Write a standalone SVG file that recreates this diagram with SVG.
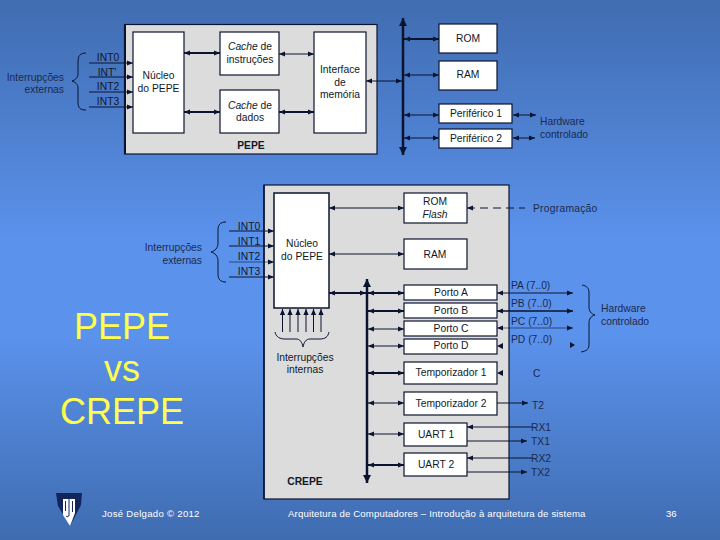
<svg xmlns="http://www.w3.org/2000/svg" width="720" height="540" viewBox="0 0 720 540">
<defs>
<linearGradient id="bg" x1="0" y1="0" x2="0" y2="1">
<stop offset="0" stop-color="#406cb0"/><stop offset="0.45" stop-color="#5b92ec"/><stop offset="0.62" stop-color="#5b92ec"/><stop offset="1" stop-color="#3f6cb0"/>
</linearGradient>
<marker id="a" markerUnits="userSpaceOnUse" markerWidth="7" markerHeight="7" refX="6" refY="3" orient="auto-start-reverse"><path d="M0 0.4L6 3L0 5.6Z" fill="#0a1430"/></marker>
<marker id="b" markerUnits="userSpaceOnUse" markerWidth="9" markerHeight="9" refX="8" refY="4" orient="auto-start-reverse"><path d="M0 0L8 4L0 8Z" fill="#0a1430"/></marker>
</defs>
<style>
text{font-family:"Liberation Sans",Arial,sans-serif;font-size:10.3px;fill:#101828;text-anchor:middle}
.w{fill:#fff;stroke:#0a1430;stroke-width:1.2}
.p{fill:#dcdcdc;stroke:#0a1430;stroke-width:1.2}
.b{fill:none;stroke:#0a1430;stroke-width:1}
.l{fill:none;stroke:#0a1430;stroke-width:1;marker-end:url(#a)}
.d{fill:none;stroke:#0a1430;stroke-width:1;marker-start:url(#a);marker-end:url(#a)}
.t{stroke-width:2}
.bus{fill:none;stroke:#0a1430;stroke-width:2.5;marker-start:url(#b);marker-end:url(#b)}
.s{text-anchor:start}
.e{text-anchor:end}
.i{font-style:italic}
.y{font-size:36px;fill:#ffff4d}
.f{fill:#fff;font-size:9.6px}
.o{fill:#1c2a4e}
</style>
<rect width="720" height="540" fill="url(#bg)"/>

<g id="pepe-box"><rect class="p" x="124.5" y="24.5" width="252.5" height="129.5"/><path d="M125 24V154" stroke="#0a1430" stroke-width="2"/><text x="251" y="149" style="font-weight:bold">PEPE</text></g>
<g id="crepe-box"><rect class="p" x="264" y="185" width="245" height="314"/><path d="M264 185V499" stroke="#0a1430" stroke-width="1.5"/><text x="305" y="485" style="font-weight:bold">CREPE</text></g>

<g id="connectors">
<path class="l" d="M89 63H133"/><path class="l" d="M89 77H133"/><path class="l" d="M89 92H133"/><path class="l" d="M89 107H133"/>
<path class="d t" d="M184 53H220"/><path class="d t" d="M184 112H220"/>
<path class="d" d="M279 54H314"/><path class="d t" d="M279 112H314"/>
<path class="d" d="M366 81H402"/>
<path class="bus" d="M403 18V155"/>
<path class="d t" d="M404 39H439"/><path class="d" d="M404 75H439"/><path class="d" d="M404 115H439"/><path class="d" d="M404 138H439"/>
<path class="d" d="M513 115H536"/><path class="d" d="M513 138H535"/>
<path class="b" d="M86 53C80 53 78 56 78 62V74C78 78 75 80 72 81C75 82 78 84 78 88V102C78 108 80 110 86 110"/>

<path class="l" d="M229 231H274"/><path class="l" d="M229 246H274"/><path class="l" d="M229 262H274" style="stroke-width:.6"/><path class="l" d="M229 277H274"/>
<path class="b" d="M226 222C220 222 218 225 218 230V243C218 248 215 251 211 252C215 253 218 256 218 261V274C218 279 220 282 226 282"/>
<path class="l" d="M282.500 332V309"/><path class="l" d="M290 332V309"/><path class="l" d="M298 332V309"/><path class="l" d="M306 332V309"/><path class="l" d="M313.500 332V309"/><path class="l" d="M321 332V309"/>
<path class="b" d="M275 332C276 337 280 339 285 339H296C300 339 302 342 303 347C304 342 306 339 310 339H320C325 339 328 337 329 332"/>
<path class="d" d="M329 208H404"/><path class="d" d="M329 254H404"/><path class="d t" d="M329 293H366"/>
<path class="bus" d="M367 279V483"/>
<path class="d t" d="M368 293H404"/><path class="d t" d="M368 311H404"/><path class="d" d="M368 329H404"/><path class="d" d="M368 346H404"/><path class="d t" d="M368 373H404"/><path class="d" d="M368 403H404"/><path class="d" d="M368 434H404"/><path class="d t" d="M368 465H404"/>
<path class="b" d="M467 208H525" stroke-dasharray="8 5" marker-start="url(#a)"/>
<path class="d" d="M497 293H573"/><path class="d" d="M497 311H573" style="stroke-width:1.3"/><path class="d" d="M497 328H573" style="stroke-width:.6"/>
<path fill="#0a1430" d="M497 346L503 343V349ZM570 342L575 345L570 348ZM497 373L503 370V376Z"/>
<path class="b" d="M582 285C587 286 589 288 589 293V307C589 311 591 314 595 315C591 316 589 319 589 323V344C589 349 587 351 581 352"/>
<path class="l" d="M497 403H528"/>
<path class="l" d="M532 427H467"/><path class="l" d="M467 441H527"/><path class="l" d="M532 458H467"/><path class="l" d="M467 472H527"/>
</g>

<g id="ints-pepe"><text x="108" y="61">INT0</text><text x="107" y="76">INT'</text><text x="108" y="90">INT2</text><text x="108" y="105">INT3</text></g>
<g id="ext-pepe"><text class="o e" x="64" y="81">Interrupções</text><text class="o e" x="64" y="93">externas</text></g>
<g id="nucleo-pepe"><rect class="w" x="133" y="32" width="51" height="101"/><text x="158.500" y="79">Núcleo</text><text x="158.500" y="92">do PEPE</text></g>
<g id="cache-i"><rect class="w" x="220" y="32" width="59" height="43"/><text x="250" y="50"><tspan class="i">Cache</tspan> de</text><text x="250" y="63">instruções</text></g>
<g id="cache-d"><rect class="w" x="220" y="90" width="59" height="43"/><text x="250" y="109"><tspan class="i">Cache</tspan> de</text><text x="250" y="121">dados</text></g>
<g id="interface"><rect class="w" x="314" y="32" width="52" height="101"/><text x="340" y="73">Interface</text><text x="340" y="86">de</text><text x="340" y="98">memória</text></g>
<g id="rom"><rect class="w" x="439" y="24" width="58" height="29"/><text x="468" y="42">ROM</text></g>
<g id="ram"><rect class="w" x="439" y="61" width="58" height="29"/><text x="468" y="78">RAM</text></g>
<g id="perif1"><rect class="w" x="439" y="104" width="73" height="19"/><text x="476" y="117">Periférico 1</text></g>
<g id="perif2"><rect class="w" x="439" y="129" width="73" height="19"/><text x="476" y="142">Periférico 2</text></g>
<g id="hw-pepe"><text class="o s" x="540" y="125">Hardware</text><text class="o s" x="540" y="138">controlado</text></g>

<g id="nucleo-crepe"><rect class="w" x="274" y="193" width="55" height="115" style="stroke-width:1.5"/><text x="302" y="247">Núcleo</text><text x="302" y="260">do PEPE</text></g>
<g id="ints-crepe"><text x="249" y="230">INT0</text><text x="249" y="245">INT1</text><text x="249" y="260">INT2</text><text x="249" y="275">INT3</text></g>
<g id="ext-crepe"><text class="o e" x="202" y="251">Interrupções</text><text class="o e" x="202" y="264">externas</text></g>
<g id="int-crepe"><text x="305" y="361">Interrupções</text><text x="305" y="373">internas</text></g>
<g id="romflash"><rect class="w" x="404" y="193" width="63" height="30"/><text x="435" y="205">ROM</text><text class="i" x="435" y="218">Flash</text></g>
<g id="ramc"><rect class="w" x="404" y="239" width="63" height="30"/><text x="435" y="258">RAM</text></g>
<g id="portoa"><rect class="w" x="404" y="285" width="93" height="15"/><text x="451" y="296">Porto A</text></g>
<g id="portob"><rect class="w" x="404" y="303" width="93" height="15"/><text x="451" y="314">Porto B</text></g>
<g id="portoc"><rect class="w" x="404" y="321" width="93" height="15"/><text x="451" y="332">Porto C</text></g>
<g id="portod"><rect class="w" x="404" y="339" width="93" height="15"/><text x="451" y="349">Porto D</text></g>
<g id="t1"><rect class="w" x="404" y="362" width="93" height="22"/><text x="451" y="376">Temporizador 1</text></g>
<g id="t2"><rect class="w" x="404" y="392" width="93" height="23"/><text x="451" y="407">Temporizador 2</text></g>
<g id="u1"><rect class="w" x="404" y="423" width="63" height="23"/><text x="436" y="438">UART 1</text></g>
<g id="u2"><rect class="w" x="404" y="453" width="63" height="23"/><text x="436" y="468">UART 2</text></g>
<g id="io">
<text class="o s" x="533" y="212" style="letter-spacing:.25px">Programação</text>
<text class="o s" x="511" y="289">PA (7..0)</text><text class="o s" x="511" y="307">PB (7..0)</text><text class="o s" x="511" y="325">PC (7..0)</text><text class="o s" x="511" y="343">PD (7..0)</text>
<text class="o s" x="601" y="312">Hardware</text><text class="o s" x="601" y="325">controlado</text>
<text class="o s" x="533" y="377">C</text><text class="o s" x="532" y="409">T2</text>
<text class="o s" x="531" y="431">RX1</text><text class="o s" x="531" y="445">TX1</text><text class="o s" x="531" y="462">RX2</text><text class="o s" x="531" y="476">TX2</text>
</g>
<g id="title"><text class="y" x="122" y="339">PEPE</text><text class="y" x="122" y="381">vs</text><text class="y" x="122" y="424">CREPE</text></g>
<g id="logo"><path d="M56 493H82L81 505L70 526L58 506Z" fill="#14245c"/><path d="M63 499H75V513L70 526L63 515Z" fill="#fff"/><path d="M65.500 501V511M69 499V515C69 517 67 517 66 516M72.500 501V512" fill="none" stroke="#14245c" stroke-width="1"/></g>
<g id="footer"><text class="f s" x="102" y="517" style="letter-spacing:.28px">José Delgado © 2012</text><text class="f s" x="288" y="517" style="letter-spacing:.155px">Arquitetura de Computadores – Introdução à arquitetura de sistema</text><text class="f s" x="666" y="517">36</text></g>
</svg>
